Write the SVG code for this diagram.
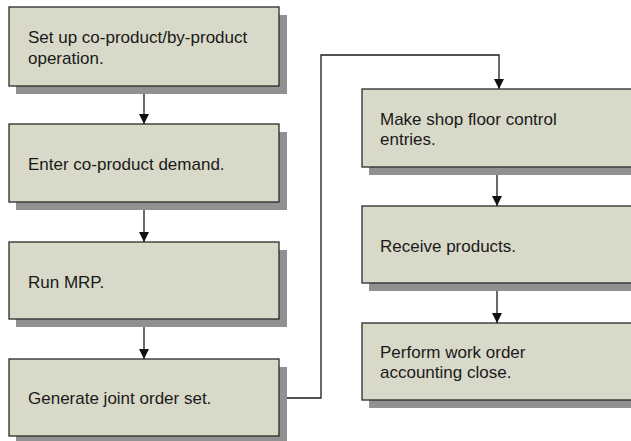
<svg xmlns="http://www.w3.org/2000/svg" width="631" height="441" viewBox="0 0 631 441">
<defs>
<style>
.box{fill:#D8D9C8;stroke:#2a2a2a;stroke-width:1.3}
.sh{fill:#919191}
.t{font-family:"Liberation Sans",Arial,sans-serif;font-size:17px;fill:#1a1a1a}
.c{fill:none;stroke:#1a1a1a;stroke-width:1.3}
</style>
<marker id="ah" viewBox="0 0 10 10" refX="10" refY="5" markerWidth="10" markerHeight="10" markerUnits="userSpaceOnUse" orient="auto">
<path d="M0,0 L10,5 L0,10 Z" fill="#111"/>
</marker>
</defs>
<rect width="631" height="441" fill="#fff"/>
<g id="connectors">
<line class="c" x1="144" y1="86" x2="144" y2="124" marker-end="url(#ah)"/>
<line class="c" x1="144" y1="202" x2="144" y2="242" marker-end="url(#ah)"/>
<line class="c" x1="144" y1="319" x2="144" y2="359" marker-end="url(#ah)"/>
<polyline class="c" points="279,398 321,398 321,55 499,55 499,89" marker-end="url(#ah)"/>
<line class="c" x1="497" y1="167" x2="497" y2="206" marker-end="url(#ah)"/>
<line class="c" x1="497" y1="283" x2="497" y2="323" marker-end="url(#ah)"/>
</g>
<g id="n1">
<rect class="sh" x="16" y="15" width="271" height="79"/>
<rect class="box" x="9" y="7" width="270" height="79"/>
<text class="t" x="28" y="43">Set up co-product/by-product</text>
<text class="t" x="28" y="64">operation.</text>
</g>
<g id="n2">
<rect class="sh" x="16" y="132" width="271" height="78"/>
<rect class="box" x="9" y="124" width="270" height="78"/>
<text class="t" x="28" y="170">Enter co-product demand.</text>
</g>
<g id="n3">
<rect class="sh" x="16" y="250" width="271" height="77"/>
<rect class="box" x="9" y="242" width="270" height="77"/>
<text class="t" x="28" y="288">Run MRP.</text>
</g>
<g id="n4">
<rect class="sh" x="16" y="367" width="271" height="77"/>
<rect class="box" x="9" y="359" width="270" height="77"/>
<text class="t" x="28" y="404">Generate joint order set.</text>
</g>
<g id="n5">
<rect class="sh" x="369" y="97" width="280" height="78"/>
<rect class="box" x="362" y="89" width="280" height="78"/>
<text class="t" x="380" y="125">Make shop floor control</text>
<text class="t" x="380" y="145">entries.</text>
</g>
<g id="n6">
<rect class="sh" x="369" y="214" width="280" height="77"/>
<rect class="box" x="362" y="206" width="280" height="77"/>
<text class="t" x="380" y="252">Receive products.</text>
</g>
<g id="n7">
<rect class="sh" x="369" y="331" width="280" height="77"/>
<rect class="box" x="362" y="323" width="280" height="77"/>
<text class="t" x="380" y="358">Perform work order</text>
<text class="t" x="380" y="378">accounting close.</text>
</g>
</svg>
